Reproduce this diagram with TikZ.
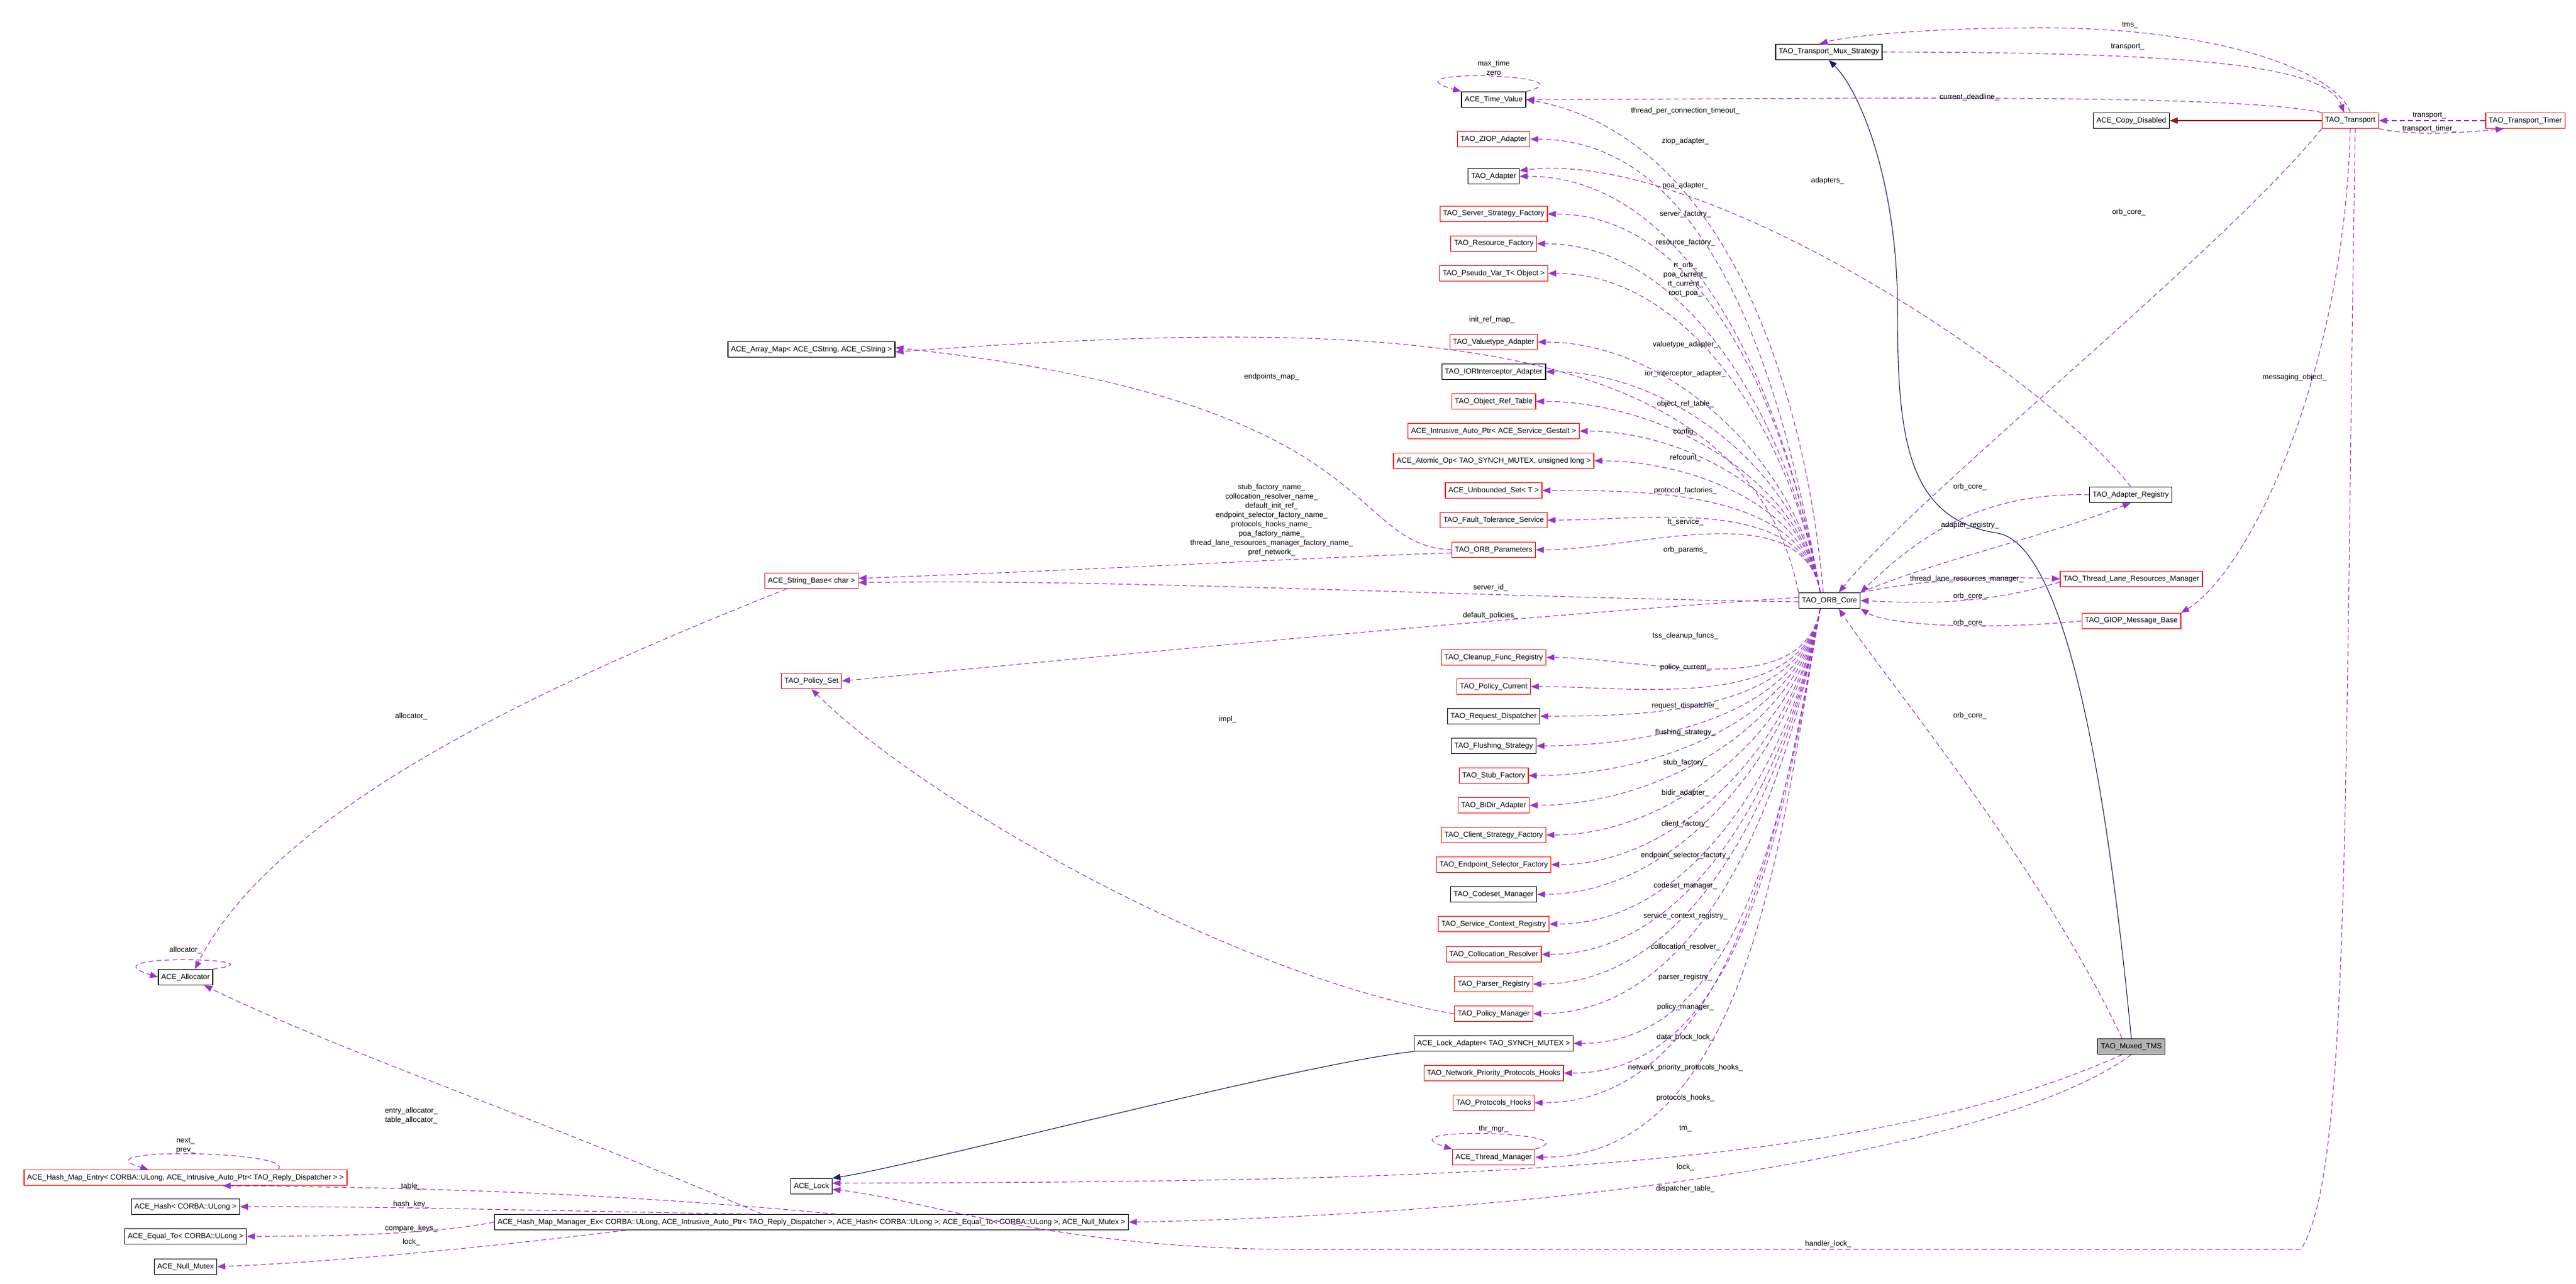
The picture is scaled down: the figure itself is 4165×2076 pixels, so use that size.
\documentclass[tikz,border=0pt]{standalone}
\usepackage{fontspec}
\setmainfont{Liberation Sans}
\usetikzlibrary{arrows.meta}
\definecolor{mp}{HTML}{9A32CD}
\definecolor{nv}{HTML}{191970}
\definecolor{dr}{HTML}{8B1A1A}
\tikzset{
 every node/.style={font=\fontsize{12}{15}\selectfont},
 cls/.style={draw=black,line width=1.2pt,minimum height=25pt,inner xsep=5pt,fill=white},
 rcls/.style={cls,draw=red},
 lbl/.style={inner sep=1pt,align=center},
 mem/.style={draw=mp,line width=1.1pt,dash pattern=on 8pt off 5pt,-{Triangle[length=13pt,width=10pt]}},
 inh/.style={line width=1.1pt,-{Triangle[length=13pt,width=10pt]}},
}
\begin{document}
\begin{tikzpicture}[x=1pt,y=-1pt]
\useasboundingbox (0,0) rectangle (4165,2076);
% top right
\node[cls] (mux) at (2957,84) {TAO\_Transport\_Mux\_Strategy};
\node[cls] (tv) at (2415,161) {ACE\_Time\_Value};
\node[cls] (cd) at (3446,195) {ACE\_Copy\_Disabled};
\node[rcls] (tr) at (3800,195) {TAO\_Transport};
\node[rcls] (tt) at (4083,195) {TAO\_Transport\_Timer};
% left column
\node[rcls] (ziop) at (2415,225) {TAO\_ZIOP\_Adapter};
\node[cls] (ad) at (2415,285) {TAO\_Adapter};
\node[rcls] (ssf) at (2415,346) {TAO\_Server\_Strategy\_Factory};
\node[rcls] (rf) at (2415,394) {TAO\_Resource\_Factory};
\node[rcls] (pv) at (2415,442) {TAO\_Pseudo\_Var\_T< Object >};
\node[rcls] (va) at (2415,553) {TAO\_Valuetype\_Adapter};
\node[cls] (ior) at (2415,601) {TAO\_IORInterceptor\_Adapter};
\node[rcls] (ort) at (2415,649) {TAO\_Object\_Ref\_Table};
\node[rcls] (iap) at (2415,697) {ACE\_Intrusive\_Auto\_Ptr< ACE\_Service\_Gestalt >};
\node[rcls] (ao) at (2415,745) {ACE\_Atomic\_Op< TAO\_SYNCH\_MUTEX, unsigned long >};
\node[rcls] (us) at (2415,793) {ACE\_Unbounded\_Set< T >};
\node[rcls] (fts) at (2415,841) {TAO\_Fault\_Tolerance\_Service};
\node[rcls] (op) at (2415,889) {TAO\_ORB\_Parameters};
\node[cls] (core) at (2958,971) {TAO\_ORB\_Core};
\node[rcls] (cfr) at (2415,1063) {TAO\_Cleanup\_Func\_Registry};
\node[rcls] (pc) at (2415,1110) {TAO\_Policy\_Current};
\node[cls] (rd) at (2415,1158) {TAO\_Request\_Dispatcher};
\node[cls] (fs) at (2415,1206) {TAO\_Flushing\_Strategy};
\node[rcls] (sf) at (2415,1254) {TAO\_Stub\_Factory};
\node[rcls] (bd) at (2415,1302) {TAO\_BiDir\_Adapter};
\node[rcls] (csf) at (2415,1350) {TAO\_Client\_Strategy\_Factory};
\node[rcls] (esf) at (2415,1398) {TAO\_Endpoint\_Selector\_Factory};
\node[cls] (cm) at (2415,1446) {TAO\_Codeset\_Manager};
\node[rcls] (scr) at (2415,1494) {TAO\_Service\_Context\_Registry};
\node[rcls] (cr) at (2415,1543) {TAO\_Collocation\_Resolver};
\node[rcls] (pr) at (2415,1591) {TAO\_Parser\_Registry};
\node[rcls] (pm) at (2415,1639) {TAO\_Policy\_Manager};
\node[cls] (la) at (2415,1687) {ACE\_Lock\_Adapter< TAO\_SYNCH\_MUTEX >};
\node[rcls] (nph) at (2415,1735) {TAO\_Network\_Priority\_Protocols\_Hooks};
\node[rcls] (ph) at (2415,1783) {TAO\_Protocols\_Hooks};
\node[rcls] (tm) at (2415,1871) {ACE\_Thread\_Manager};
% right
\node[cls] (areg) at (3445,800) {TAO\_Adapter\_Registry};
\node[rcls] (tlr) at (3446,936) {TAO\_Thread\_Lane\_Resources\_Manager};
\node[rcls] (giop) at (3446,1004) {TAO\_GIOP\_Message\_Base};
\node[cls,fill=black!30] (mtms) at (3446,1692) {TAO\_Muxed\_TMS};
% far left
\node[cls] (am) at (1312,565) {ACE\_Array\_Map< ACE\_CString, ACE\_CString >};
\node[rcls] (sb) at (1312,939) {ACE\_String\_Base< char >};
\node[rcls] (ps) at (1312,1101) {TAO\_Policy\_Set};
\node[cls] (al) at (300,1580) {ACE\_Allocator};
\node[rcls] (hme) at (300,1904) {ACE\_Hash\_Map\_Entry< CORBA::ULong, ACE\_Intrusive\_Auto\_Ptr< TAO\_Reply\_Dispatcher > >};
\node[cls] (hs) at (300,1951) {ACE\_Hash< CORBA::ULong >};
\node[cls] (eq) at (300,1999) {ACE\_Equal\_To< CORBA::ULong >};
\node[cls] (nm) at (300,2048) {ACE\_Null\_Mutex};
\node[cls] (lk) at (1312,1918) {ACE\_Lock};
\node[cls] (hmm) at (1312,1976) {ACE\_Hash\_Map\_Manager\_Ex< CORBA::ULong, ACE\_Intrusive\_Auto\_Ptr< TAO\_Reply\_Dispatcher >, ACE\_Hash< CORBA::ULong >, ACE\_Equal\_To< CORBA::ULong >, ACE\_Null\_Mutex >};

% inheritance
\draw[inh,dr] (tr.west) -- (cd.east);
\draw[inh,nv] (mtms.north) .. controls (3400,1200) and (3330,880) .. (3230,862) .. controls (3080,840) and (3068,700) .. (3068,500) .. controls (3068,300) and (3010,150) .. (mux.south);
\draw[inh,nv] (la.south west) .. controls (2100,1720) and (1500,1880) .. (lk.north east);

% ORB core members, upper
\foreach \t in {ziop,ad,ssf,rf,pv,va,ior,ort,iap,ao,us,fts,op}
  \draw[mem] ([xshift=-15pt]core.north) to[out=100,in=0,looseness=0.9] (\t.east);
\draw[mem] ([xshift=-10pt]core.north) to[out=95,in=-10,looseness=0.9] (tv.east);
\foreach \t in {cfr,pc,rd,fs,sf,bd,csf,esf,cm,scr,cr,pr,pm,la,nph,ph,tm}
  \draw[mem] ([xshift=-15pt]core.south) to[out=-100,in=0,looseness=0.9] (\t.east);
\draw[mem] (core.north west) .. controls (2820,520) and (2200,515) .. ([yshift=-4pt]am.east);
\draw[mem] ([yshift=-2pt]core.west) .. controls (2400,966) and (1800,935) .. ([yshift=-3pt]sb.east);
\draw[mem] ([yshift=5pt]core.west) .. controls (2400,1000) and (1800,1060) .. (ps.east);
\draw[mem] (core.north east) .. controls (3150,900) and (3300,870) .. (areg.south);
\draw[mem] (core.north east) .. controls (3100,940) and (3200,930) .. (tlr.west);
% into ORB core
\draw[mem] (tr.south west) .. controls (3600,400) and (3100,800) .. ([xshift=15pt]core.north);
\draw[mem] (areg.west) .. controls (3200,795) and (3100,870) .. (core.north east);
\draw[mem] ([yshift=8pt]tlr.south west) .. controls (3200,980) and (3100,975) .. (core.east);
\draw[mem] (giop.west) .. controls (3200,1020) and (3050,1010) .. (core.south east);
\draw[mem] ([xshift=-15pt]mtms.north) .. controls (3300,1400) and (3050,1100) .. ([xshift=15pt]core.south);
% others
\draw[mem] (areg.north) .. controls (3300,600) and (2750,240) .. ([yshift=-4pt]ad.north east);
\draw[mem] (op.west) .. controls (2170,880) and (2250,650) .. ([yshift=3pt]am.east);
\draw[mem] ([yshift=-5pt]op.west) .. controls (2150,900) and (1800,920) .. ([yshift=4pt]sb.east);
\draw[mem] (pm.west) .. controls (2000,1580) and (1500,1300) .. (ps.south);
\draw[mem] ([xshift=-40pt]sb.south) .. controls (900,1100) and (450,1300) .. ([xshift=15pt]al.north);
\draw[mem] ([xshift=-80pt]hmm.north) .. controls (850,1800) and (550,1700) .. ([xshift=30pt]al.south);
\draw[mem] ([xshift=40pt]hmm.north) .. controls (1000,1930) and (700,1920) .. ([xshift=60pt]hme.south);
\draw[mem] ([xshift=-100pt]hmm.north) .. controls (900,1958) and (600,1950) .. (hs.east);
\draw[mem] (hmm.west) .. controls (700,1995) and (550,1999) .. (eq.east);
\draw[mem] ([xshift=-300pt]hmm.south) .. controls (800,2015) and (550,2040) .. (nm.east);
\draw[mem] ([xshift=-15pt]mtms.south) .. controls (3000,1900) and (2300,1910) .. ([yshift=5pt]lk.east);
\draw[mem] (mtms.south) .. controls (3250,1850) and (2600,1960) .. (hmm.east);
\draw[mem] (tr.north west) .. controls (3600,150) and (3000,160) .. (tv.east);
\draw[mem] (tr.north) .. controls (3780,120) and (3600,45) .. (3300,45) .. controls (3100,45) and (2980,60) .. ([xshift=-15pt]mux.north);
\draw[mem] (mux.east) .. controls (3500,85) and (3760,100) .. ([xshift=-10pt]tr.north);
\draw[mem] (tt.west) -- (tr.east);
\draw[mem] (tr.south east) .. controls (3900,220) and (3980,215) .. ([xshift=-35pt]tt.south);
\draw[mem] (tr.south) .. controls (3790,600) and (3640,920) .. (giop.north east);
\draw[mem] ([xshift=8pt]tr.south) .. controls (3790,1300) and (3800,1900) .. (3720,2020) -- (2100,2020) .. controls (1700,2020) and (1500,1940) .. ([yshift=-5pt]lk.east);
% self loops
\draw[mem] (tv.north east) .. controls (2580,120) and (2230,110) .. (tv.north west);
\draw[mem] (tm.north east) .. controls (2580,1830) and (2230,1820) .. (tm.north west);
\draw[mem] (al.north east) .. controls (470,1550) and (130,1540) .. (al.west);
\draw[mem] ([xshift=150pt]hme.north) .. controls (480,1860) and (120,1855) .. ([xshift=-60pt]hme.north);

% labels
\foreach \n/\y/\t in {l1/179/thread\_per\_connection\_timeout\_,l2/228/ziop\_adapter\_,l3/300/poa\_adapter\_,l4/346/server\_factory\_,l5/392/resource\_factory\_,l7/557/valuetype\_adapter\_,l8/604/ior\_interceptor\_adapter\_,l9/653/object\_ref\_table\_,l10/698/config\_,l11/740/refcount\_,l12/793/protocol\_factories\_,l13/844/ft\_service\_,l14/889/orb\_params\_,l15/1028/tss\_cleanup\_funcs\_,l16/1079/policy\_current\_,l17/1141/request\_dispatcher\_,l18/1184/flushing\_strategy\_,l19/1233/stub\_factory\_,l20/1282/bidir\_adapter\_,l21/1332/client\_factory\_,l22/1383/endpoint\_selector\_factory\_,l23/1432/codeset\_manager\_,l24/1481/service\_context\_registry\_,l25/1531/collocation\_resolver\_,l26/1580/parser\_registry\_,l27/1628/policy\_manager\_,l28/1677/data\_block\_lock\_,l29/1726/network\_priority\_protocols\_hooks\_,l30/1775/protocols\_hooks\_,l31/1825/tm\_,l32/1887/lock\_,l33/1922/dispatcher\_table\_}
  \node[lbl] (\n) at (2725,\y) {\t};
\node[lbl] (l6) at (2725,452) {rt\_orb\_\\poa\_current\_\\rt\_current\_\\root\_poa\_};
\node[lbl] (m1) at (2412,517) {init\_ref\_map\_};
\node[lbl] (m2) at (2410,950) {server\_id\_};
\node[lbl] (m3) at (2410,995) {default\_policies\_};
\node[lbl] (m4) at (2415,110) {max\_time\\zero};
\node[lbl] (m5) at (2415,1825) {thr\_mgr\_};
\node[lbl] (m6) at (3444,41) {tms\_};
\node[lbl] (m7) at (3440,76) {transport\_};
\node[lbl] (m8) at (3184,157) {current\_deadline\_};
\node[lbl] (m9) at (2955,292) {adapters\_};
\node[lbl] (m10) at (3442,343) {orb\_core\_};
\node[lbl] (m11) at (3185,787) {orb\_core\_};
\node[lbl] (m12) at (3185,849) {adapter\_registry\_};
\node[lbl] (m13) at (3180,936) {thread\_lane\_resources\_manager\_};
\node[lbl] (m14) at (3185,964) {orb\_core\_};
\node[lbl] (m15) at (3185,1007) {orb\_core\_};
\node[lbl] (m16) at (3185,1157) {orb\_core\_};
\node[lbl] (m17) at (3928,187) {transport\_};
\node[lbl] (m18) at (3928,208) {transport\_timer\_};
\node[lbl] (m19) at (3710,610) {messaging\_object\_};
\node[lbl] (m20) at (2956,2011) {handler\_lock\_};
\node[lbl] (m21) at (2056,609) {endpoints\_map\_};
\node[lbl] (m22) at (2056,841) {stub\_factory\_name\_\\collocation\_resolver\_name\_\\default\_init\_ref\_\\endpoint\_selector\_factory\_name\_\\protocols\_hooks\_name\_\\poa\_factory\_name\_\\thread\_lane\_resources\_manager\_factory\_name\_\\pref\_network\_};
\node[lbl] (m23) at (1985,1163) {impl\_};
\node[lbl] (m24) at (665,1158) {allocator\_};
\node[lbl] (m25) at (300,1536) {allocator\_};
\node[lbl] (m26) at (665,1804) {entry\_allocator\_\\table\_allocator\_};
\node[lbl] (m27) at (300,1852) {next\_\\prev\_};
\node[lbl] (m28) at (665,1918) {table\_};
\node[lbl] (m29) at (665,1947) {hash\_key\_};
\node[lbl] (m30) at (665,1986) {compare\_keys\_};
\node[lbl] (m31) at (665,2008) {lock\_};
\end{tikzpicture}
\end{document}
